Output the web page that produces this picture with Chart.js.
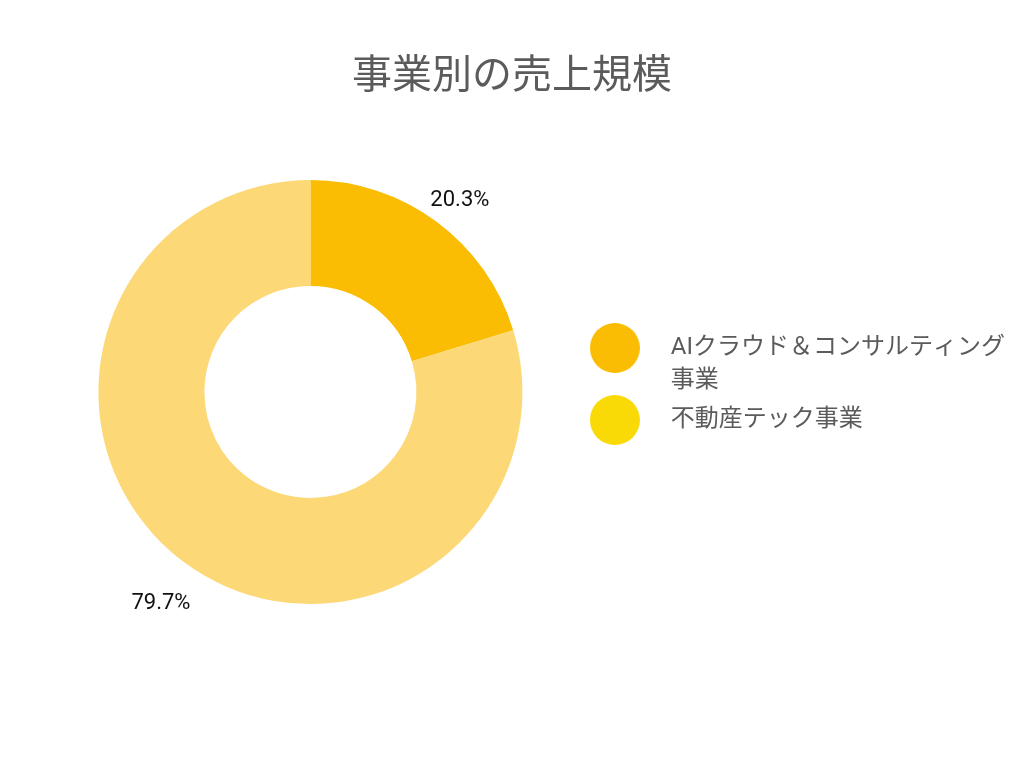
<!DOCTYPE html>
<html lang="ja">
<head>
<meta charset="utf-8">
<title>事業別の売上規模</title>
<script src="https://cdn.jsdelivr.net/npm/chart.js@4.4.1/dist/chart.umd.min.js"></script>
<style>
  html, body { margin: 0; padding: 0; background: #fff; }
</style>
</head>
<body>
<canvas id="salesChart" width="1024" height="768"></canvas>
<script>
// データ
const chartTitle = '事業別の売上規模';
const segments = [['AIクラウド＆コンサルティング', '事業'], '不動産テック事業'];
const shares = [20.3, 79.7];
const sliceColors = ['#FBBC04', '#FCD877'];
const legendColors = ['#FBBC04', '#F9DA07'];

const textColor = '#5b5b5b';
const jpFont = 'Roboto, "Noto Sans CJK JP", sans-serif';

// 凡例用の丸マーカー（画像として pointStyle に渡す）
function dot(color) {
    const c = document.createElement('canvas');
    c.width = 50;
    c.height = 50;
    const g = c.getContext('2d');
    g.fillStyle = color;
    g.beginPath();
    g.arc(25, 25, 25, 0, Math.PI * 2);
    g.fill();
    return c;
}

// タイトルはキャンバス全幅の中央に置く
const centerTitle = {
    id: 'centerTitle',
    afterLayout(chart) {
        if (chart.titleBlock) {
            chart.titleBlock.left = 0;
            chart.titleBlock.right = chart.width;
        }
    }
};

// 外側にパーセント表示
const percentLabels = {
    id: 'percentLabels',
    afterDatasetsDraw(chart) {
        const { ctx } = chart;
        const total = shares.reduce((a, b) => a + b, 0);
        const meta = chart.getDatasetMeta(0);
        ctx.save();
        ctx.font = '22px Roboto, "Noto Sans", sans-serif';
        ctx.fillStyle = '#111';
        ctx.textAlign = 'center';
        ctx.textBaseline = 'alphabetic';
        meta.data.forEach((arc, i) => {
            const { x, y, startAngle, endAngle, outerRadius } =
                arc.getProps(['x', 'y', 'startAngle', 'endAngle', 'outerRadius'], true);
            const mid = (startAngle + endAngle) / 2;
            const r = outerRadius + 39;
            const text = (shares[i] / total * 100).toFixed(1) + '%';
            ctx.fillText(text, x + Math.cos(mid) * r, y + Math.sin(mid) * r + 15.5);
        });
        ctx.restore();
    }
};

new Chart(document.getElementById('salesChart'), {
    type: 'doughnut',
    data: {
        labels: segments,
        datasets: [{
            data: shares,
            backgroundColor: sliceColors,
            borderWidth: 0,
            hoverOffset: 0
        }]
    },
    options: {
        responsive: false,
        animation: false,
        cutout: '50%',
        layout: {
            padding: { left: 56, right: 9, top: 0, bottom: 164 }
        },
        plugins: {
            title: {
                display: true,
                text: chartTitle,
                color: textColor,
                font: { family: jpFont, size: 40, weight: 'normal', lineHeight: 1.2 },
                padding: { top: 54, bottom: 78 }
            },
            legend: {
                position: 'right',
                align: 'start',
                fullSize: false,
                title: {
                    display: true,
                    text: '',
                    font: { size: 10, lineHeight: 1 },
                    padding: { top: 140, bottom: 0 }
                },
                labels: {
                    usePointStyle: true,
                    pointStyleWidth: 88,
                    padding: 6,
                    color: textColor,
                    font: { family: jpFont, size: 24, lineHeight: 1.375 },
                    generateLabels: chart => chart.data.labels.map((text, i) => ({
                        text,
                        pointStyle: dot(legendColors[i]),
                        fillStyle: legendColors[i],
                        strokeStyle: 'transparent',
                        lineWidth: 0,
                        fontColor: textColor,
                        hidden: false,
                        index: i
                    }))
                }
            },
            tooltip: { enabled: false }
        }
    },
    plugins: [centerTitle, percentLabels]
});
</script>
</body>
</html>
